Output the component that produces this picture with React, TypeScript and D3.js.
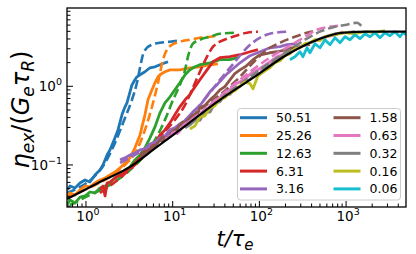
import React from 'react'
import * as d3 from 'd3'

// shear rates shown in the legend (one colour each, tab10 order)
const rates = ['50.51', '25.26', '12.63', '6.31', '3.16', '1.58', '0.63', '0.32', '0.16', '0.06']
const colors = ['#1f77b4', '#ff7f0e', '#2ca02c', '#d62728', '#9467bd', '#8c564b', '#e377c2', '#7f7f7f', '#bcbd22', '#17becf']

// [t/tau_e, eta_ex/(Ge tau_R)] -- simulation (solid) and model (dashed)
const sim5051 = [[0.604, 0.0481], [0.654, 0.054], [0.747, 0.0509], [0.853, 0.059], [0.974, 0.0644], [1.11, 0.0607], [1.27, 0.0746], [1.45, 0.0863], [1.57, 0.1], [1.75, 0.134], [1.89, 0.155], [2.16, 0.221], [2.34, 0.279], [2.6, 0.434], [2.82, 0.548], [2.97, 0.616], [3.22, 0.851], [3.39, 1.04], [3.67, 1.21], [3.87, 1.32], [4.2, 1.4], [4.79, 1.53], [5.47, 1.72], [6.25, 1.77], [7.14, 1.88], [8.15, 1.99], [8.83, 2.05]]
const fit5051 = [[0.604, 0.044], [0.853, 0.0525], [1.2, 0.0683], [1.66, 0.106], [2.16, 0.191], [2.82, 0.397], [3.39, 0.673], [3.87, 1.11], [4.2, 1.72], [4.54, 2.52], [5.05, 3.09], [5.77, 3.38], [7.14, 3.58], [9.31, 3.69], [11.5, 3.8]]

const sim2526 = [[0.604, 0.0403], [0.654, 0.044], [0.747, 0.0415], [0.853, 0.0481], [0.974, 0.054], [1.11, 0.0525], [1.27, 0.059], [1.45, 0.0644], [1.66, 0.0683], [1.89, 0.0746], [2.16, 0.0814], [2.47, 0.0916], [2.82, 0.106], [3.22, 0.123], [3.67, 0.165], [4.2, 0.241], [4.54, 0.343], [4.79, 0.434], [5.19, 0.673], [5.77, 0.902], [6.25, 1.11], [6.77, 1.32], [7.14, 1.4], [8.15, 1.53], [9.31, 1.62], [12.1, 1.62], [15.8, 1.72], [20.6, 1.77], [26.9, 1.88], [33.3, 1.93]]
const fit2526 = [[0.604, 0.038], [0.853, 0.0453], [1.27, 0.0556], [1.89, 0.0703], [2.82, 0.1], [3.87, 0.155], [4.79, 0.279], [5.77, 0.548], [6.77, 1.11], [7.73, 2.18], [8.59, 2.92], [9.82, 3.38], [12.1, 3.69], [15.8, 3.91], [20.6, 4.15], [26.9, 4.27], [33.3, 4.4]]

const sim1263 = [[0.604, 0.0309], [0.654, 0.0358], [0.747, 0.0328], [0.853, 0.0391], [0.974, 0.0403], [1.11, 0.0453], [1.27, 0.044], [1.45, 0.0509], [1.66, 0.054], [1.89, 0.059], [2.16, 0.0683], [2.47, 0.0746], [2.82, 0.0863], [3.22, 0.0944], [3.67, 0.116], [4.2, 0.134], [4.79, 0.165], [5.47, 0.221], [6.25, 0.305], [7.14, 0.46], [8.15, 0.616], [9.31, 0.735], [10.6, 0.902], [12.1, 1.11], [13.9, 1.4], [15.8, 1.62], [18.1, 1.77], [20.6, 1.88], [26.9, 1.99], [35.1, 2.18], [45.8, 2.18], [56.6, 2.31]]
const fit1263 = [[0.654, 0.0309], [1.11, 0.0415], [1.89, 0.0556], [3.22, 0.0863], [4.79, 0.134], [6.25, 0.208], [8.15, 0.374], [10.1, 0.673], [12.1, 1.04], [13.9, 1.62], [15.0, 2.38], [17.1, 3.48], [20.6, 3.91], [26.9, 4.27], [35.1, 4.66], [55.2, 4.8]]

const sim631 = [[1.45, 0.0481], [1.57, 0.054], [1.66, 0.0403], [1.75, 0.059], [1.89, 0.0607], [2.16, 0.0683], [2.47, 0.0746], [2.82, 0.0814], [3.22, 0.0916], [3.67, 0.106], [4.2, 0.123], [4.79, 0.142], [5.47, 0.165], [6.25, 0.191], [7.14, 0.241], [8.15, 0.279], [9.31, 0.343], [10.6, 0.434], [12.1, 0.548], [13.9, 0.673], [15.8, 0.78], [17.1, 0.902], [20.6, 1.21], [24.9, 1.62], [29.2, 2.05], [35.1, 2.31], [45.8, 2.38], [59.7, 2.52], [78.0, 2.75], [96.3, 2.92]]
const fit631 = [[1.45, 0.044], [2.47, 0.0683], [4.2, 0.116], [7.14, 0.227], [10.6, 0.374], [13.9, 0.581], [17.1, 0.957], [20.6, 1.53], [24.9, 2.38], [29.2, 3.19], [35.1, 3.69], [49.6, 4.27], [71.9, 4.8], [96.3, 4.95]]

const sim316 = [[2.47, 0.116], [2.82, 0.123], [3.22, 0.134], [3.67, 0.142], [4.2, 0.155], [4.79, 0.16], [5.47, 0.185], [6.25, 0.196], [7.14, 0.221], [8.15, 0.234], [9.31, 0.279], [10.6, 0.296], [12.1, 0.333], [13.9, 0.364], [17.1, 0.473], [20.6, 0.565], [26.9, 0.851], [33.3, 1.08], [42.3, 1.44], [49.6, 1.67], [59.7, 1.99], [78.0, 2.45], [102, 2.75], [132, 3.09], [173, 3.19], [208, 3.38], [271, 3.48]]
const fit316 = [[2.47, 0.106], [4.2, 0.146], [7.14, 0.208], [12.1, 0.323], [20.6, 0.581], [35.1, 1.21], [52.3, 2.05], [71.9, 3.09], [102, 4.15], [132, 4.66], [208, 4.95]]

const sim158 = [[4.2, 0.134], [4.79, 0.151], [5.0, 0.14], [5.47, 0.155], [5.8, 0.172], [6.25, 0.18], [6.7, 0.19], [7.14, 0.208], [7.6, 0.225], [8.15, 0.221], [8.7, 0.215], [9.31, 0.234], [9.8, 0.262], [10.6, 0.279], [11.3, 0.29], [12.1, 0.323], [13.0, 0.35], [13.9, 0.343], [14.8, 0.36], [15.8, 0.397], [17.0, 0.43], [18.1, 0.421], [19.3, 0.44], [20.6, 0.532], [23.5, 0.57], [26.9, 0.673], [30.5, 0.76], [35.1, 0.902], [40, 0.99], [45.8, 1.21], [52, 1.45], [59.7, 1.62], [70, 1.8], [84.4, 2.18], [100, 2.5], [132, 2.67], [160, 2.75], [208, 2.92], [250, 3.12], [294, 3.19], [340, 3.35], [383, 3.38]]
const fit158 = [[4.2, 0.123], [7.14, 0.191], [12.1, 0.305], [20.6, 0.502], [35.1, 0.78], [59.7, 1.32], [84.4, 1.99], [122, 2.92], [173, 3.58], [257, 4.27], [354, 4.8], [438, 5.09]]

const sim063 = [[8.15, 0.221], [8.7, 0.215], [9.31, 0.227], [10.0, 0.255], [10.6, 0.263], [11.3, 0.25], [12.1, 0.271], [13.0, 0.31], [13.9, 0.333], [15.8, 0.36], [18.1, 0.409], [19.3, 0.43], [20.6, 0.421], [23.5, 0.47], [26.9, 0.565], [30.5, 0.66], [35.1, 0.714], [40, 0.79], [45.8, 0.902], [52, 1.05], [59.7, 1.14], [70, 1.28], [84.4, 1.53], [100, 1.66], [132, 2.05], [160, 2.38], [208, 2.67], [250, 2.85], [294, 3.19], [350, 3.45], [415, 3.69], [500, 3.95], [602, 4.27], [750, 4.5], [921, 4.95]]
const fit063 = [[9.31, 0.227], [15.8, 0.353], [26.9, 0.581], [45.8, 0.957], [78.0, 1.53], [132, 2.31], [225, 3.28], [336, 4.27], [462, 5.24], [652, 5.73], [851, 5.9]]

const sim032 = [[13.9, 0.296], [15.8, 0.323], [18.1, 0.38], [20.6, 0.37], [23.6, 0.47], [26.9, 0.47], [30.8, 0.61], [35.1, 0.64], [40.1, 0.78], [45.8, 0.79], [52.3, 0.95], [59.7, 0.99], [68.2, 1.16], [78.0, 1.22], [89.0, 1.43], [102, 1.46], [116, 1.75], [132, 1.8], [151, 2.13], [197, 2.52], [257, 2.92], [336, 3.38], [438, 3.8], [571, 4.27], [745, 4.66], [971, 4.8], [1267, 4.95]]
const fit032 = [[15.8, 0.323], [26.9, 0.532], [45.8, 0.851], [78.0, 1.32], [132, 1.99], [225, 2.92], [336, 3.91], [500, 4.95], [745, 5.73], [1024, 6.07], [1336, 6.44], [1525, 5.73]]

const sim016 = [[15.8, 0.287], [18.1, 0.314], [20.6, 0.409], [23.6, 0.421], [26.9, 0.532], [30.8, 0.565], [35.1, 0.693], [40.1, 0.714], [45.8, 0.826], [52.3, 0.877], [59.7, 1.01], [68.2, 1.14], [78.0, 1.08], [84.4, 0.929], [96.3, 1.36], [116, 1.57], [132, 1.72], [151, 1.99], [173, 2.11], [197, 2.45], [225, 2.59], [257, 3.0], [294, 3.09], [336, 3.48], [383, 3.58], [438, 3.91], [500, 3.8], [571, 4.27], [745, 4.53], [971, 4.8], [1267, 4.66], [1652, 4.95], [2155, 4.8], [2810, 5.09]]

const sim006 = [[225, 2.18], [257, 2.38], [294, 2.75], [318, 2.38], [354, 3.09], [383, 2.67], [438, 3.48], [500, 3.09], [571, 3.91], [652, 3.38], [745, 4.15], [851, 3.58], [971, 4.27], [1109, 3.91], [1267, 4.53], [1446, 4.03], [1652, 4.66], [1888, 4.27], [2155, 4.8], [2460, 4.15], [2810, 4.8], [3208, 4.4], [3663, 4.95], [4185, 4.27], [4533, 4.8], [4910, 4.53]]

// linear-response curve (black)
const theory = [[0.604, 0.0369], [1.45, 0.0607], [3.22, 0.0944], [6.25, 0.162], [12.1, 0.279], [35.1, 0.673], [84.4, 1.28], [208, 2.52], [500, 4.03], [921, 4.8], [1888, 4.95], [4910, 4.95]]

const simSeries = [sim5051, sim2526, sim1263, sim631, sim316, sim158, sim063, sim032, sim016, sim006]
const fitSeries = [fit5051, fit2526, fit1263, fit631, fit316, fit158, fit063, fit032, null, null]

const xMajor = [1, 10, 100, 1000]
const yMajor = [0.1, 1]

const font = 'DejaVu Sans, sans-serif'

export default function App() {
  const left = 67, right = 406, top = 8, bottom = 207
  const x = d3.scaleLog().domain([0.604, 4910]).range([left, right])
  const y = d3.scaleLog().domain([0.0292, 9.9]).range([bottom, top])

  const line = d3.line<number[]>().x(d => x(d[0])).y(d => y(d[1]))
  const smooth = d3.line<number[]>().x(d => x(d[0])).y(d => y(d[1])).curve(d3.curveMonotoneX)

  const minor = (dom: number[]) => {
    const out: number[] = []
    for (let p = -3; p <= 4; p++) {
      for (let k = 2; k <= 9; k++) {
        const v = k * Math.pow(10, p)
        if (v > dom[0] && v < dom[1]) out.push(v)
      }
    }
    return out
  }
  const xMinor = minor(x.domain())
  const yMinor = minor(y.domain())

  const supLabel = (exp: string) => (
    <>
      10<tspan dy={-6} fontSize={9.5}>{exp}</tspan>
    </>
  )

  const legendRows = 5
  const rowH = 17.8

  return (
    <svg width={416} height={254} style={{ position: 'absolute', left: 0, top: 0, background: '#fff' }}
      fontFamily={font}>
      <defs>
        <clipPath id="plot">
          <rect x={left} y={top} width={right - left} height={bottom - top} />
        </clipPath>
      </defs>
      <g clipPath="url(#plot)" fill="none" strokeLinejoin="round">
        {simSeries.map((s, i) => (
          <g key={i}>
            <path d={line(s as number[][]) || ''} stroke={colors[i]} strokeWidth={2.8} />
            {fitSeries[i] && (
              <path d={smooth(fitSeries[i] as number[][]) || ''} stroke={colors[i]} strokeWidth={2.6}
                strokeDasharray="9,4" />
            )}
          </g>
        ))}
        <path d={smooth(theory) || ''} stroke="#000" strokeWidth={2.2} />
      </g>

      {/* ticks, pointing inward */}
      <g stroke="#000" strokeWidth={1}>
        {xMajor.map(v => <line key={'xM' + v} x1={x(v)} x2={x(v)} y1={bottom} y2={bottom - 6} />)}
        {xMinor.map(v => <line key={'xm' + v} x1={x(v)} x2={x(v)} y1={bottom} y2={bottom - 3.5} />)}
        {yMajor.map(v => <line key={'yM' + v} x1={left} x2={left + 6} y1={y(v)} y2={y(v)} />)}
        {yMinor.map(v => <line key={'ym' + v} x1={left} x2={left + 3.5} y1={y(v)} y2={y(v)} />)}
      </g>
      <rect x={left} y={top} width={right - left} height={bottom - top} fill="none" stroke="#000" strokeWidth={1.3} />

      <g fontSize={13.5} fill="#000">
        {xMajor.map(v => (
          <text key={'xl' + v} x={x(v) + 2} y={221} textAnchor="middle">
            {supLabel(String(Math.round(Math.log10(v))))}
          </text>
        ))}
        {yMajor.map(v => (
          <text key={'yl' + v} x={62} y={y(v) + 5} textAnchor="end">
            {supLabel(String(Math.round(Math.log10(v))).replace('-', '\u2212'))}
          </text>
        ))}
      </g>

      <text x={235} y={246} textAnchor="middle" fontSize={21} fontStyle="italic">
        t/τ<tspan dy={4} fontSize={15}>e</tspan>
      </text>
      <text transform={`translate(29,${(top + bottom) / 2 + 2}) rotate(-90)`} textAnchor="middle" fontSize={24}>
        <tspan fontStyle="italic">η</tspan>
        <tspan fontStyle="italic" dy={5} fontSize={17}>ex</tspan>
        <tspan dy={-5}>/(</tspan>
        <tspan fontStyle="italic">G</tspan>
        <tspan fontStyle="italic" dy={5} fontSize={17}>e</tspan>
        <tspan fontStyle="italic" dy={-5}>τ</tspan>
        <tspan fontStyle="italic" dy={5} fontSize={17}>R</tspan>
        <tspan dy={-5}>)</tspan>
      </text>

      <g>
        <rect x={237.5} y={108.5} width={163} height={91.5} rx={3} fill="#fff" fillOpacity={0.8} stroke="#ccc" strokeWidth={1} />
        {rates.map((r, i) => {
          const col = Math.floor(i / legendRows)
          const row = i % legendRows
          const lx = col === 0 ? 240 : 333.5
          const ly = 117.7 + row * rowH
          return (
            <g key={r}>
              <line x1={lx} x2={lx + 27} y1={ly} y2={ly} stroke={colors[i]} strokeWidth={3} />
              <text x={lx + 36} y={ly + 4.5} fontSize={12.5}>{r}</text>
            </g>
          )
        })}
      </g>
    </svg>
  )
}
